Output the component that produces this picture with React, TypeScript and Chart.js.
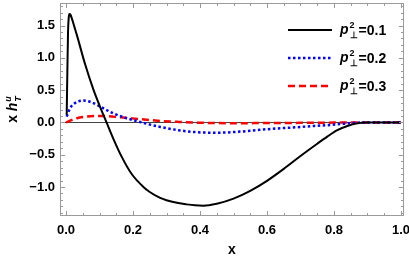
import React, { useEffect, useRef } from "react";
import { Chart, registerables } from "chart.js";

Chart.register(...registerables);

const xTickValues = [0, 0.2, 0.4, 0.6, 0.8, 1.0];
const yTickValues = [-1.0, -0.5, 0, 0.5, 1.0, 1.5];

const blackX = [0.002, 0.004, 0.006, 0.008, 0.010, 0.013, 0.018, 0.025, 0.032, 0.057, 0.081, 0.101, 0.121, 0.141, 0.166, 0.196, 0.231, 0.25, 0.281, 0.30, 0.335, 0.36, 0.385, 0.41, 0.45, 0.50, 0.55, 0.60, 0.65, 0.70, 0.75, 0.78, 0.81, 0.84, 0.87, 0.90, 0.93, 1.0];
const blackY = [0.12, 0.8, 1.4, 1.62, 1.68, 1.67, 1.6, 1.48, 1.36, 0.90, 0.52, 0.25, 0.0, -0.25, -0.53, -0.80, -1.0, -1.078, -1.17, -1.205, -1.25, -1.27, -1.285, -1.29, -1.26, -1.18, -1.06, -0.905, -0.72, -0.52, -0.33, -0.22, -0.12, -0.055, -0.015, -0.002, 0, 0];

const blueX = [0.002, 0.012, 0.027, 0.052, 0.077, 0.111, 0.141, 0.181, 0.226, 0.281, 0.335, 0.385, 0.45, 0.50, 0.55, 0.59, 0.64, 0.69, 0.74, 0.79, 0.83, 0.87, 0.92, 1.0];
const blueY = [0.09, 0.22, 0.30, 0.34, 0.31, 0.22, 0.14, 0.065, 0.0, -0.07, -0.12, -0.15, -0.16, -0.15, -0.13, -0.11, -0.09, -0.075, -0.055, -0.04, -0.02, -0.005, 0, 0];

const redX = [0, 0.032, 0.062, 0.10, 0.161, 0.221, 0.281, 0.335, 0.40, 0.45, 0.50, 0.60, 0.70, 0.80, 0.90, 1.0];
const redY = [0, 0.065, 0.09, 0.10, 0.08, 0.05, 0.023, 0.008, -0.005, -0.01, -0.012, -0.01, -0.007, -0.003, 0, 0];

const seriesLabels = ["0.1", "0.2", "0.3"];

const FONT = "'Liberation Sans', Arial, sans-serif";

function fmt(v: number): string {
  const s = Math.abs(v).toFixed(1);
  return v < -1e-9 ? "\u2212" + s : s;
}

function pts(xs: number[], ys: number[]) {
  return xs.map((x, i) => ({ x, y: ys[i] }));
}

const framePlugin = {
  id: "mmaFrame",
  beforeDatasetsDraw(chart: any) {
    const { ctx, chartArea: a, scales } = chart;
    const y0 = scales.y.getPixelForValue(0);
    ctx.save();
    ctx.strokeStyle = "#444";
    ctx.lineWidth = 1;
    ctx.beginPath();
    ctx.moveTo(a.left, Math.round(y0) + 0.5);
    ctx.lineTo(a.right, Math.round(y0) + 0.5);
    ctx.stroke();
    ctx.restore();
  },
  afterDraw(chart: any) {
    const { ctx, chartArea: a, scales } = chart;
    const xs = scales.x;
    const ys = scales.y;
    ctx.save();
    ctx.strokeStyle = "#9a9a9a";
    ctx.lineWidth = 1;
    ctx.strokeRect(a.left + 0.5, a.top + 0.5, a.right - a.left - 1, a.bottom - a.top - 1);
    ctx.beginPath();
    for (let i = 0; i <= 20; i++) {
      const v = i * 0.05;
      const major = i % 4 === 0;
      const len = major ? 5 : 3;
      const px = Math.round(xs.getPixelForValue(v)) + 0.5;
      ctx.moveTo(px, a.bottom);
      ctx.lineTo(px, a.bottom - len);
      ctx.moveTo(px, a.top);
      ctx.lineTo(px, a.top + len);
    }
    for (let i = -14; i <= 18; i++) {
      const v = i * 0.1;
      const major = i % 5 === 0;
      const len = major ? 5 : 3;
      const py = Math.round(ys.getPixelForValue(v)) + 0.5;
      if (py < a.top || py > a.bottom) continue;
      ctx.moveTo(a.left, py);
      ctx.lineTo(a.left + len, py);
      ctx.moveTo(a.right, py);
      ctx.lineTo(a.right - len, py);
    }
    ctx.stroke();

    // legend
    const colors = ["#000000", "#0000ff", "#ff0000"];
    const dashes = [[], [2.5, 2.5], [7, 4]];
    const widths = [2, 2.5, 2.5];
    const rowY = [30, 58, 86];
    for (let i = 0; i < 3; i++) {
      const y = rowY[i];
      ctx.strokeStyle = colors[i];
      ctx.lineWidth = widths[i];
      ctx.setLineDash(dashes[i]);
      ctx.beginPath();
      ctx.moveTo(288, y);
      ctx.lineTo(332, y);
      ctx.stroke();
      ctx.setLineDash([]);
      ctx.fillStyle = "#000";
      ctx.textBaseline = "alphabetic";
      ctx.textAlign = "left";
      let x = 340;
      ctx.font = "italic bold 14px " + FONT;
      ctx.fillText("p", x, y + 4);
      x += ctx.measureText("p").width + 1;
      ctx.font = "bold 9px " + FONT;
      ctx.fillText("2", x, y - 2);
      const w2 = ctx.measureText("2").width;
      ctx.fillText("\u22a5", x, y + 8);
      const w3 = ctx.measureText("\u22a5").width;
      x += Math.max(w2, w3) + 1;
      ctx.font = "bold 14px " + FONT;
      ctx.fillText("=" + seriesLabels[i], x, y + 5);
    }

    // x title
    ctx.font = "bold 14px " + FONT;
    ctx.textAlign = "center";
    ctx.fillText("x", (a.left + a.right) / 2, 254);

    // y title
    ctx.save();
    ctx.translate(17, (a.top + a.bottom) / 2);
    ctx.rotate(-Math.PI / 2);
    ctx.textAlign = "left";
    ctx.font = "bold 14px " + FONT;
    const wx = ctx.measureText("x ").width;
    ctx.font = "italic bold 14px " + FONT;
    const wh = ctx.measureText("h").width;
    ctx.font = "italic bold 9px " + FONT;
    const wu = Math.max(ctx.measureText("u").width, ctx.measureText("T").width);
    const total = wx + wh + 1 + wu;
    let tx = -total / 2;
    ctx.font = "bold 14px " + FONT;
    ctx.fillText("x ", tx, 0);
    tx += wx;
    ctx.font = "italic bold 14px " + FONT;
    ctx.fillText("h", tx, 0);
    tx += wh + 1;
    ctx.font = "italic bold 9px " + FONT;
    ctx.fillText("u", tx, -6);
    ctx.fillText("T", tx, 4);
    ctx.restore();
    ctx.restore();
  },
};

export default function App() {
  const ref = useRef<HTMLCanvasElement | null>(null);
  useEffect(() => {
    document.body.style.margin = "0";
    if (!ref.current) return;
    const chart = new Chart(ref.current, {
      type: "line",
      data: {
        datasets: [
          { data: pts(blackX, blackY), borderColor: "#000000", borderWidth: 2, pointRadius: 0, cubicInterpolationMode: "monotone", fill: false },
          { data: pts(blueX, blueY), borderColor: "#0000ff", borderWidth: 2.5, borderDash: [2.5, 2.5], pointRadius: 0, cubicInterpolationMode: "monotone", fill: false },
          { data: pts(redX, redY), borderColor: "#ff0000", borderWidth: 2.5, borderDash: [7, 4], pointRadius: 0, cubicInterpolationMode: "monotone", fill: false },
        ] as any,
      },
      options: {
        animation: false,
        responsive: true,
        maintainAspectRatio: false,
        layout: { padding: { top: 3, right: 5, left: 0, bottom: 0 } },
        plugins: { legend: { display: false }, tooltip: { enabled: false } },
        scales: {
          x: {
            type: "linear",
            min: -0.018,
            max: 1.009,
            afterBuildTicks: (s: any) => { s.ticks = xTickValues.map((v) => ({ value: v })); },
            afterFit: (s: any) => { s.height = 47; s.paddingLeft = 0; s.paddingRight = 0; },
            ticks: { font: { family: FONT, size: 13, weight: "bold" }, color: "#000", padding: 7, maxRotation: 0, autoSkip: false, callback: (v: any) => fmt(Number(v)) },
            grid: { display: false, drawTicks: false },
            border: { display: false },
          },
          y: {
            type: "linear",
            min: -1.45,
            max: 1.85,
            afterBuildTicks: (s: any) => { s.ticks = yTickValues.map((v) => ({ value: v })); },
            afterFit: (s: any) => { s.width = 60; s.paddingTop = 0; s.paddingBottom = 0; },
            ticks: { font: { family: FONT, size: 13, weight: "bold" }, color: "#000", padding: 5, autoSkip: false, callback: (v: any) => fmt(Number(v)) },
            grid: { display: false, drawTicks: false },
            border: { display: false },
          },
        },
      } as any,
      plugins: [framePlugin],
    });
    return () => chart.destroy();
  }, []);
  return (
    <div style={{ position: "relative", width: 409, height: 263 }}>
      <canvas ref={ref} />
    </div>
  );
}
